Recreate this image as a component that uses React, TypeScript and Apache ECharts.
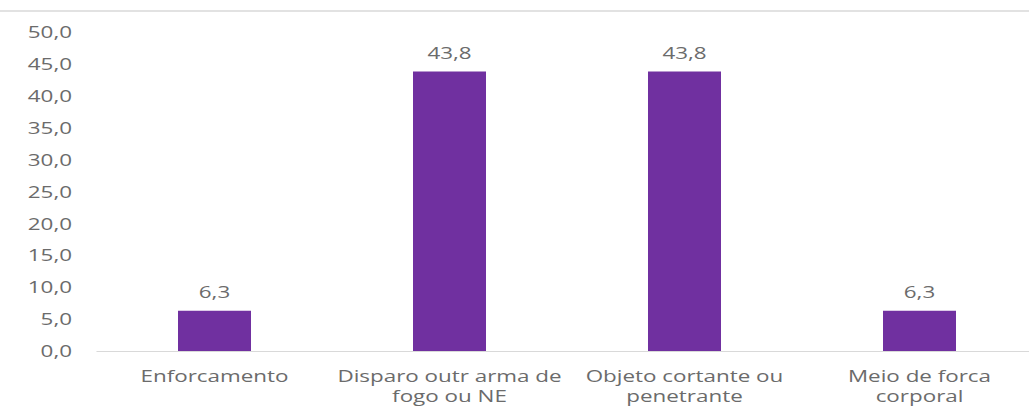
import React, { useEffect, useRef } from "react";
import * as echarts from "echarts";

const categories = [
  "Enforcamento",
  "Disparo outr arma de\nfogo ou NE",
  "Objeto cortante ou\npenetrante",
  "Meio de forca\ncorporal",
];
const values = [6.3, 43.8, 43.8, 6.3];
const yMin = 0;
const yMax = 50;
const yStep = 5;

const fmt = (v: number) => v.toFixed(1).replace(".", ",");

// The reference picture is horizontally stretched; we reproduce that by
// drawing the chart narrower and stretching it with a CSS transform.
const S = 1.4;
const FULL_W = 1045;
const CW = FULL_W / S;

export default function App() {
  const ref = useRef<HTMLDivElement>(null);
  useEffect(() => {
    if (!ref.current) return;
    const chart = echarts.init(ref.current, undefined, { renderer: "svg" });
    const font = "'Open Sans', sans-serif";
    const textColor = "#6b6b6b";
    const gridLeft = 97 / S;
    const gridW = 940 / S;
    chart.setOption({
      animation: false,
      backgroundColor: "#ffffff",
      graphic: [
        {
          type: "line",
          shape: { x1: 0, y1: 11, x2: CW, y2: 11 },
          style: { stroke: "#d9d9d9", lineWidth: 1.5 },
        },
      ],
      grid: { left: gridLeft, width: gridW, top: 32, height: 322 },
      xAxis: {
        type: "category",
        data: categories,
        axisLine: { lineStyle: { color: "#d9d9d9", width: 1 } },
        axisTick: { show: false },
        axisLabel: {
          color: textColor,
          fontFamily: font,
          fontSize: 16,
          lineHeight: 20,
          margin: 15,
          interval: 0,
        },
      },
      yAxis: {
        type: "value",
        min: yMin,
        max: yMax,
        interval: yStep,
        splitLine: { show: false },
        axisLine: { show: false },
        axisTick: { show: false },
        axisLabel: {
          color: textColor,
          fontFamily: font,
          fontSize: 16,
          margin: 25 / S,
          formatter: (v: number) => fmt(v),
        },
      },
      series: [
        {
          type: "bar",
          data: values,
          barWidth: 73 / S,
          itemStyle: { color: "#7030a0" },
          label: {
            show: true,
            position: "top",
            distance: 11,
            color: textColor,
            fontFamily: font,
            fontSize: 16,
            formatter: (p: any) => fmt(p.value),
          },
        },
      ],
    });
    return () => chart.dispose();
  }, []);
  return (
    <div
      style={{
        position: "absolute",
        left: 0,
        top: 0,
        width: 1029,
        height: 406,
        overflow: "hidden",
        background: "#fff",
      }}
    >
      <div
        ref={ref}
        style={{
          width: CW,
          height: 406,
          transform: `scaleX(${S})`,
          transformOrigin: "left top",
        }}
      />
    </div>
  );
}
